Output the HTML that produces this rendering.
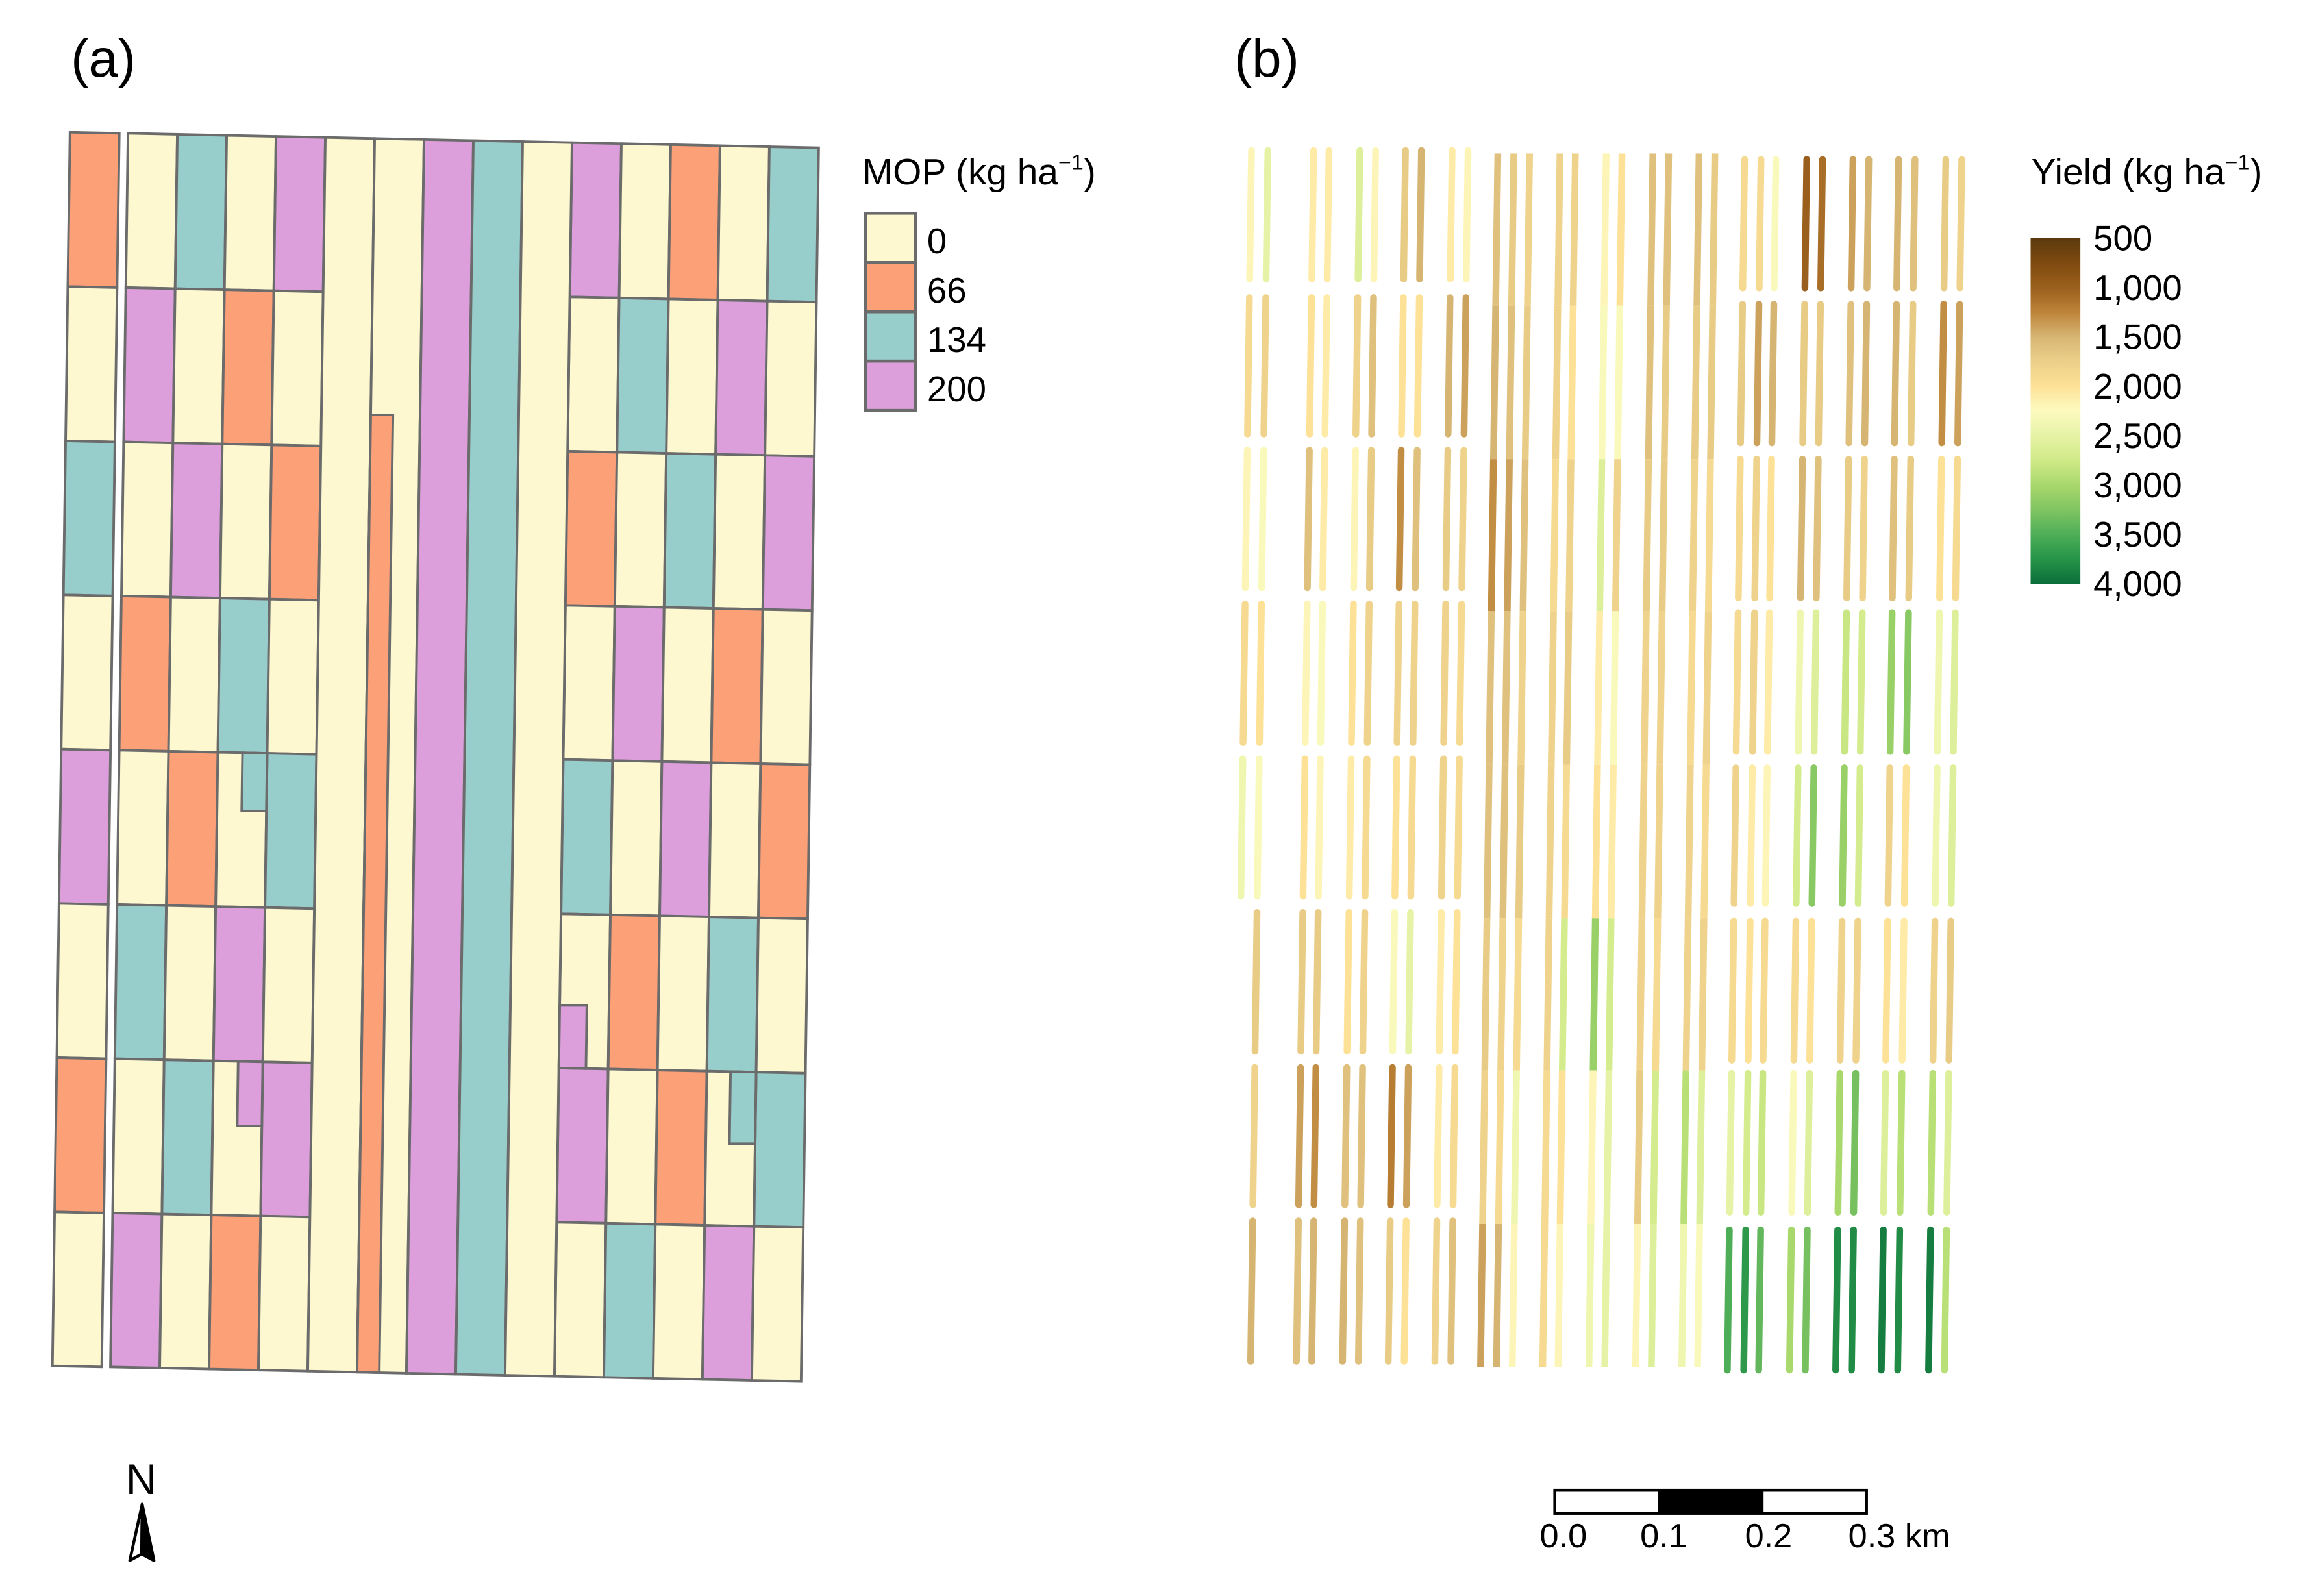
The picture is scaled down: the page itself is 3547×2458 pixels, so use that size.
<!DOCTYPE html>
<html><head><meta charset="utf-8"><title>MOP and Yield maps</title>
<style>
html,body{margin:0;padding:0;background:#fff;}
svg{display:block;font-family:"Liberation Sans",Arial,sans-serif;}
</style></head>
<body>
<svg id="fig" width="3547" height="2458" viewBox="0 0 1560 1081" preserveAspectRatio="none">
<defs>
<linearGradient id="yg" x1="0" y1="0" x2="0" y2="1"></linearGradient>
</defs>
<rect x="0" y="0" width="1560" height="1081" fill="#fff"/>
<text x="48" y="52" font-size="36">(a)</text>
<text x="836" y="52" font-size="36">(b)</text>
<g id="panelA"></g>
<g id="panelB"></g>
<g id="legendA">
<text x="584" y="125" font-size="25">MOP (kg ha<tspan dy="-10" font-size="15">−1</tspan><tspan dy="10">)</tspan></text>
</g>
<g id="legendB">
<text x="1376" y="125" font-size="25">Yield (kg ha<tspan dy="-10" font-size="15">−1</tspan><tspan dy="10">)</tspan></text>
</g>
<g>
<rect x="1053.2" y="1009.4" width="211.1" height="15.6" fill="#fff" stroke="#000" stroke-width="2"/>
<rect x="1122.9" y="1009.4" width="71.7" height="15.6" fill="#000"/>
<text x="1059" y="1048" font-size="23" text-anchor="middle">0.0</text>
<text x="1127" y="1048" font-size="23" text-anchor="middle">0.1</text>
<text x="1198" y="1048" font-size="23" text-anchor="middle">0.2</text>
<text x="1252" y="1048" font-size="23">0.3 km</text>
</g>
<g>
<text x="95.7" y="1012" font-size="29" text-anchor="middle">N</text>
<polygon points="96.3,1018.9 87.9,1057 96,1052.6" fill="#fff" stroke="#000" stroke-width="2" stroke-linejoin="round"/>
<polygon points="96.3,1018.9 96,1052.6 104.3,1057" fill="#000" stroke="#000" stroke-width="2" stroke-linejoin="round"/>
</g>
</svg>
<script>
// ---------- Panel (a) data: MOP rate per plot (rows top->bottom, columns c0..c14; null = long strip columns)
const mopRates = [0, 66, 134, 200];
const mopGrid = [
  [66, 0, 134, 0, 200, null, null, null, null, null, 200, 0, 66, 0, 134],
  [0, 200, 0, 66, 0, null, null, null, null, null, 0, 134, 0, 200, 0],
  [134, 0, 200, 0, 66, null, null, null, null, null, 66, 0, 134, 0, 200],
  [0, 66, 0, 134, 0, null, null, null, null, null, 0, 200, 0, 66, 0],
  [200, 0, 66, 0, 134, null, null, null, null, null, 134, 0, 200, 0, 66],
  [0, 134, 0, 200, 0, null, null, null, null, null, 0, 66, 0, 134, 0],
  [66, 0, 134, 0, 200, null, null, null, null, null, 200, 0, 66, 0, 134],
  [0, 200, 0, 66, 0, null, null, null, null, null, 0, 134, 0, 200, 0]
];
const longStripCols = [5, 6, 7, 8, 9];
const longStripRates = [0, 0, 200, 134, 0];

// ---------- Panel (b) data: mean yield per strip segment (rows top->bottom)
const yieldLeft = [
  [2200, 2500, 2100, 2100, 2600, 2200, 1700, 1500, 2100, 2200],
  [1900, 1800, 2000, 2100, 1800, 1600, 2000, 2000, 1500, 1400],
  [2200, 2300, 1600, 2100, 2200, 1700, 1300, 1600, 1700, 1800],
  [1900, 2000, 2200, 2300, 2000, 1800, 1800, 1800, 1800, 1900],
  [2400, 2300, 2000, 2200, 2100, 1900, 2000, 1900, 1800, 1900],
  [null, 1700, 1700, 1700, 2000, 1800, 2300, 2500, 2100, 2000],
  [null, 1800, 1400, 1300, 1600, 1600, 1200, 1400, 2100, 1900],
  [null, 1500, 1600, 1500, 1500, 1600, 1700, 2000, 1800, 1600]
];
const yieldMiddle = [
  [1600, 1700, 1800, 1800, 1800, 2200, 2000, 1600, 1600, 1600, 1700],
  [1500, 1600, 1700, 1800, 2000, 2300, 2300, 1600, 1700, 1700, 1700],
  [1300, 1400, 1600, 1900, 1800, 2600, 1800, 1700, 1700, 1800, 1900],
  [1600, 1600, 1800, 1800, 1700, 2100, 2300, 1800, 1800, 1900, 1800],
  [1600, 1600, 1700, 1800, 1900, 2000, 2100, 1800, 1800, 1800, 1900],
  [1700, 1800, 1900, 1800, 2700, 3100, 2700, 1800, 1900, 1800, 1800],
  [1800, 1900, 2400, 1900, 2000, 2200, 2500, 1700, 2700, 2900, 2600],
  [1400, 1500, 2200, 1900, 2200, 2400, 2500, 2200, 2600, 2400, 2300]
];
const yieldRight = [
  [1900, 1900, 2300, 1000, 1100, 1400, 1500, 1500, 1600, 1700, 1800],
  [1700, 1400, 1500, 1700, 1700, 1600, 1500, 1500, 1700, 1300, 1400],
  [1900, 1800, 2000, 1500, 1600, 1700, 1800, 1600, 1700, 2000, 1900],
  [1900, 1800, 2100, 2400, 2600, 2800, 2700, 3100, 3200, 2400, 2600],
  [1800, 2100, 2200, 2700, 3200, 3100, 2700, 1800, 2000, 2400, 2600],
  [1900, 2000, 1900, 1900, 2000, 1800, 1800, 2000, 2100, 1800, 1700],
  [2500, 2700, 2800, 2300, 2600, 3000, 3300, 2600, 2900, 2900, 2600],
  [3500, 3700, 3400, 3000, 3300, 3800, 3800, 3900, 3800, 3900, 2900]
];
const yieldTicks = [500, 1000, 1500, 2000, 2500, 3000, 3500, 4000];
const yieldTickLabels = ["500", "1,000", "1,500", "2,000", "2,500", "3,000", "3,500", "4,000"];

// ---------- styles / geometry
const mopColors = {0: "#fef8d0", 66: "#fca078", 134: "#97cdcb", 200: "#dd9fdc"};
const stroke = "#6b6b6b";
const yBase = [89.6, 194.1, 298.6, 403.0, 507.4, 611.9, 716.4, 820.8, 925.2];
const colW = 33.43, lean = 0.01425, ySlope = 0.7;
function colLeft(c){ return c === 0 ? 47.4 : 86.7 + (c - 1) * colW; }
function xAt(c, f, y){ return colLeft(c) + f * 33.4 - (y - 90) * lean; }
function yEdge(line, c, f){ return yBase[line] + ySlope * (c + f); }
function quad(c, f0, f1, yt0, yt1, yb0, yb1, fill, name){
  const pts = [[xAt(c,f0,yt0),yt0],[xAt(c,f1,yt1),yt1],[xAt(c,f1,yb1),yb1],[xAt(c,f0,yb0),yb0]]
    .map(p => p[0].toFixed(2)+","+p[1].toFixed(2)).join(" ");
  return `<polygon points="${pts}" fill="${fill}" stroke="${stroke}" stroke-width="1.7" stroke-linejoin="miter"/>`;
}
let a = "";
mopGrid.forEach((row, r) => {
  row.forEach((v, c) => {
    if (v === null) return;
    a += quad(c, 0, 1, yEdge(r,c,0), yEdge(r,c,1), yEdge(r+1,c,0), yEdge(r+1,c,1), mopColors[v], `plot-r${r+1}-c${c}`);
  });
});
longStripCols.forEach((c, i) => {
  a += quad(c, 0, 1, yEdge(0,c,0), yEdge(0,c,1), yEdge(8,c,0), yEdge(8,c,1), mopColors[longStripRates[i]], `long-strip-c${c}`);
});
a += quad(6, 0, 0.45, 281, 281, yEdge(8,6,0), yEdge(8,6,0.45), mopColors[66], "narrow-strip-66");
a += quad(3, 0.5, 1, yEdge(4,3,0.5), yEdge(4,3,1), 549.3, 549.3, mopColors[134], "notch-r5-c3");
a += quad(3, 0.5, 1, yEdge(6,3,0.5), yEdge(6,3,1), 762.6, 762.6, mopColors[200], "notch-r7-c3");
a += quad(10, 0, 0.55, 681, 681, yEdge(6,10,0), yEdge(6,10,0.55), mopColors[200], "notch-r6-c10");
a += quad(13, 0.48, 1, yEdge(6,13,0.48), yEdge(6,13,1), 774.6, 774.6, mopColors[134], "notch-r7-c13");
document.getElementById("panelA").innerHTML = a;

// legend (a)
let la = "";
mopRates.forEach((v, i) => {
  const y = 144.4 + i * 33.4;
  la += `<rect x="586.3" y="${y}" width="33.9" height="33.4" fill="${mopColors[v]}" stroke="${stroke}" stroke-width="2"/>`;
  la += `<text x="628" y="${(171.5 + i*33.4).toFixed(1)}" font-size="24">${v}</text>`;
});
document.getElementById("legendA").insertAdjacentHTML("beforeend", la);

// ---------- yield colour scale
const scaleStops = [[500,"#5b3a0d"],[750,"#7e4a10"],[1000,"#9a5f1c"],[1250,"#bd8439"],[1500,"#d6b572"],[1750,"#ecd08a"],[2000,"#fde196"],[2250,"#fdfac0"],[2500,"#e6f3a6"],[2750,"#d0ea88"],[3000,"#a9d86c"],[3250,"#80c562"],[3500,"#4eae58"],[3750,"#269448"],[4000,"#0a6e3a"]];
function hex2rgb(h){ return [1,3,5].map(i => parseInt(h.slice(i,i+2),16)); }
function yieldColor(v){
  v = Math.max(500, Math.min(4000, v));
  for (let i = 0; i < scaleStops.length - 1; i++){
    const [v0,c0] = scaleStops[i], [v1,c1] = scaleStops[i+1];
    if (v <= v1){
      const t = (v - v0) / (v1 - v0), a0 = hex2rgb(c0), a1 = hex2rgb(c1);
      return "rgb(" + a0.map((x,k) => Math.round(x + (a1[k]-x)*t)).join(",") + ")";
    }
  }
  return scaleStops[scaleStops.length-1][1];
}
const grad = document.getElementById("yg");
grad.innerHTML = scaleStops.map(s => `<stop offset="${((s[0]-500)/3500).toFixed(4)}" stop-color="${s[1]}"/>`).join("");

// ---------- panel (b) strips
const xLeft = [847.7, 858.8, 889.8, 900.2, 921.1, 931.8, 952.0, 962.8, 983.6, 994.4];
const xMid = [1014.6, 1025.4, 1036.1, 1056.7, 1067.1, 1088.0, 1098.7, 1119.6, 1130.3, 1150.9, 1161.6];
const xRight = [1181.8, 1192.9, 1203.0, 1223.9, 1234.6, 1255.2, 1265.9, 1286.1, 1297.2, 1318.1, 1328.9];
const rowsLeft = [[102,189],[201.6,294],[305,398],[409,503],[514,607],[618,712],[723,816],[827,922]];
const rowsMid = [[104,207],[207,311],[311,414],[414,518],[518,622],[622,725],[725,829],[829,926]];
const rowsRight = [[108,195],[206,300],[311,405],[415,509],[520,612],[624,718],[727,821],[833,928]];
function sx(x0, y){ return x0 - (y - 105) * lean; }
let b = "";
function drawGroup(vals, xs, rows, grp){
  vals.forEach((row, r) => {
    row.forEach((v, s) => {
      if (v === null) return;
      const [y0, y1] = rows[r];
      b += `<line x1="${sx(xs[s],y0).toFixed(2)}" y1="${y0}" x2="${sx(xs[s],y1).toFixed(2)}" y2="${y1}" stroke="${yieldColor(v)}" stroke-width="4.6" stroke-linecap="${grp==='mid'?'butt':'round'}"/>`;
    });
  });
}
drawGroup(yieldLeft, xLeft, rowsLeft, "left");
drawGroup(yieldMiddle, xMid, rowsMid, "mid");
drawGroup(yieldRight, xRight, rowsRight, "right");
document.getElementById("panelB").innerHTML = b;

// legend (b)
let lb = `<rect x="1375.5" y="161.2" width="33.7" height="234.2" fill="url(#yg)"/>`;
yieldTicks.forEach((t, i) => {
  const yc = 161.2 + (t - 500) / 3500 * 234.2;
  lb += `<text x="1418" y="${(yc + 8.4).toFixed(1)}" font-size="24">${yieldTickLabels[i]}</text>`;
});
document.getElementById("legendB").insertAdjacentHTML("beforeend", lb);
</script>
</body></html>
